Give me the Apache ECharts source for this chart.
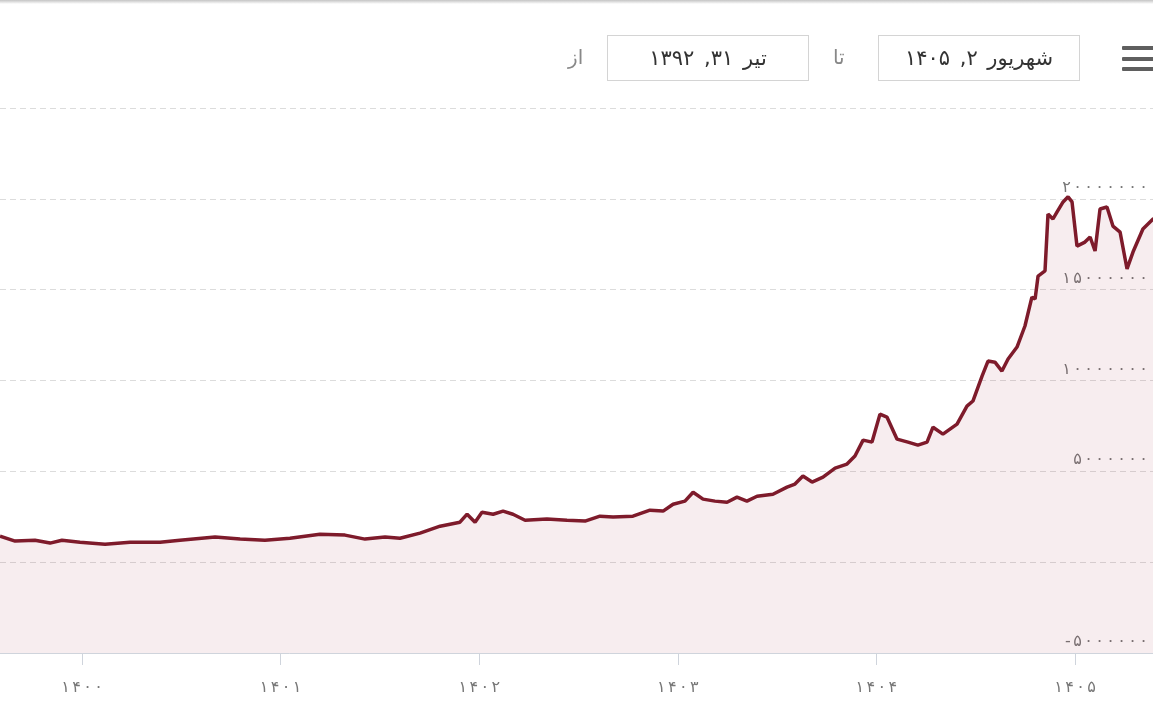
<!DOCTYPE html>
<html>
<head>
<meta charset="utf-8">
<script src="https://cdn.jsdelivr.net/npm/echarts@6/dist/echarts.min.js"></script>
<style>
  html, body { margin:0; padding:0; background:#fff; overflow:hidden; width:1153px; height:719px; }
  #chart { position:absolute; left:0; top:0; width:1170px; height:719px; }
  .box { position:absolute; top:35px; height:46px; width:202px; border:1px solid #d4d4d4; box-sizing:border-box;
         font-family:'DejaVu Sans', sans-serif; font-size:21px; color:#333; text-align:center; line-height:44px; direction:rtl; background:#fff; word-spacing:3px; }
  .lbl { position:absolute; top:35px; height:45px; line-height:45px; font-family:'DejaVu Sans', sans-serif; font-size:20px; color:#888; direction:rtl; }
  .bar { position:absolute; left:1122px; width:40px; height:4px; background:#5f5f5f; border-radius:1px; }
  #topline { position:absolute; left:0; top:0; width:1153px; height:4px; background:linear-gradient(#c4c4c4, #fff); }
</style>
</head>
<body>
<div id="chart"></div>
<div id="topline"></div>
<div class="lbl" style="left:568px;">از</div>
<div class="box" style="left:607px;">تیر ۳۱, ۱۳۹۲</div>
<div class="lbl" style="left:833px;">تا</div>
<div class="box" style="left:878px;">شهریور ۲, ۱۴۰۵</div>
<div class="bar" style="top:46px;"></div>
<div class="bar" style="top:57px;"></div>
<div class="bar" style="top:67px;"></div>
<script>
// Fractional Persian (solar hijri) years
const years = [
  1399.587, 1399.663, 1399.763, 1399.839, 1399.899, 1399.990, 1400.116, 1400.242, 1400.393, 1400.493,
  1400.670, 1400.796, 1400.921, 1401.047, 1401.198, 1401.324, 1401.425, 1401.526, 1401.601, 1401.702,
  1401.803, 1401.903, 1401.939, 1401.979, 1402.014, 1402.070, 1402.120, 1402.170, 1402.231, 1402.341,
  1402.442, 1402.533, 1402.608, 1402.674, 1402.774, 1402.860, 1402.926, 1402.976, 1403.036, 1403.077,
  1403.127, 1403.187, 1403.248, 1403.298, 1403.348, 1403.399, 1403.479, 1403.550, 1403.590, 1403.630,
  1403.676, 1403.731, 1403.792, 1403.852, 1403.892, 1403.933, 1403.978, 1404.018, 1404.053, 1404.104,
  1404.159, 1404.209, 1404.255, 1404.285, 1404.335, 1404.406, 1404.456, 1404.486, 1404.532, 1404.562,
  1404.597, 1404.632, 1404.663, 1404.708, 1404.748, 1404.783, 1404.799, 1404.814, 1404.849, 1404.864,
  1404.889, 1404.909, 1404.940, 1404.965, 1404.985, 1405.010, 1405.050, 1405.076, 1405.101, 1405.126,
  1405.161, 1405.191, 1405.227, 1405.262, 1405.292, 1405.342, 1405.393, 1405.425
];
const values = [
  14300000, 11600000, 12100000, 10500000, 12100000, 11000000, 9900000, 11000000, 11000000, 12100000,
  13800000, 12700000, 12100000, 13200000, 15400000, 14900000, 12700000, 13800000, 13200000, 16000000,
  19800000, 22000000, 26400000, 22000000, 27500000, 26400000, 28100000, 26400000, 23100000, 23700000,
  23100000, 22600000, 25300000, 24800000, 25300000, 28600000, 28100000, 31900000, 33600000, 38500000,
  34700000, 33600000, 33000000, 35800000, 33600000, 36300000, 37400000, 41300000, 43000000, 47400000,
  44100000, 46800000, 51800000, 54000000, 58400000, 67200000, 66100000, 81500000, 79900000, 67700000,
  66100000, 64400000, 66100000, 74300000, 70500000, 76000000, 85900000, 88700000, 102400000, 110700000,
  110100000, 105200000, 111800000, 118400000, 130000000, 145900000, 144800000, 157500000, 160300000, 191600000,
  188900000, 192700000, 198300000, 201100000, 198300000, 174000000, 176200000, 179000000, 171300000, 194400000,
  195500000, 185000000, 181700000, 161400000, 170700000, 183400000, 188900000, 190500000
];
const yearTicks = [1400, 1401, 1402, 1403, 1404, 1405];
const yMin = -50000000, yMax = 250000000, yStep = 50000000;

const faDigits = '۰۱۲۳۴۵۶۷۸۹';
// Persian digits, each in its own fixed-width rich-text cell
function faRich(v) {
  return String(v).replace(/-/g, '{m|-}').replace(/\d/g, d => '{d|' + faDigits[+d] + '}');
}
const digitRich = {
  d: { width: 11, align: 'center', fontSize: 16, fontFamily: 'DejaVu Sans', color: '#777' },
  m: { width: 8, align: 'center', fontSize: 16, fontFamily: 'DejaVu Sans', color: '#777' }
};

const chart = echarts.init(document.getElementById('chart'), null, { renderer: 'canvas' });
chart.setOption({
  animation: false,
  backgroundColor: '#fff',
  grid: { left: 0, right: 10, top: 108, bottom: 66, containLabel: false },
  xAxis: {
    type: 'value',
    min: 1399.587,
    max: 1405.428,
    axisLine: { show: true, onZero: false, lineStyle: { color: '#cfd4dc', width: 1 } },
    axisTick: { show: true, customValues: yearTicks, length: 12, lineStyle: { color: '#cfd4dc' } },
    axisLabel: {
      customValues: yearTicks,
      formatter: v => faRich(Math.round(v)),
      rich: digitRich,
      color: '#777', fontSize: 16, fontFamily: 'DejaVu Sans', margin: 27
    },
    splitLine: { show: false }
  },
  yAxis: {
    type: 'value',
    position: 'right',
    min: yMin, max: yMax, interval: yStep,
    axisLine: { show: false },
    axisTick: { show: false },
    axisLabel: {
      inside: true, showMaxLabel: false, verticalAlign: 'bottom', margin: 0,
      formatter: v => faRich(v),
      rich: digitRich,
      lineHeight: 22,
      color: '#777', fontSize: 16, fontFamily: 'DejaVu Sans'
    },
    splitLine: { show: true, lineStyle: { color: '#dcdcdc', type: [6, 4], width: 1 } }
  },
  series: [{
    type: 'line',
    data: years.map((y, i) => [y, values[i]]),
    showSymbol: false,
    symbol: 'none',
    lineStyle: { color: '#7e1b2b', width: 3.5 },
    areaStyle: { color: 'rgba(150,30,50,0.11)', origin: 'start' },
    clip: true
  }]
});
</script>
</body>
</html>
